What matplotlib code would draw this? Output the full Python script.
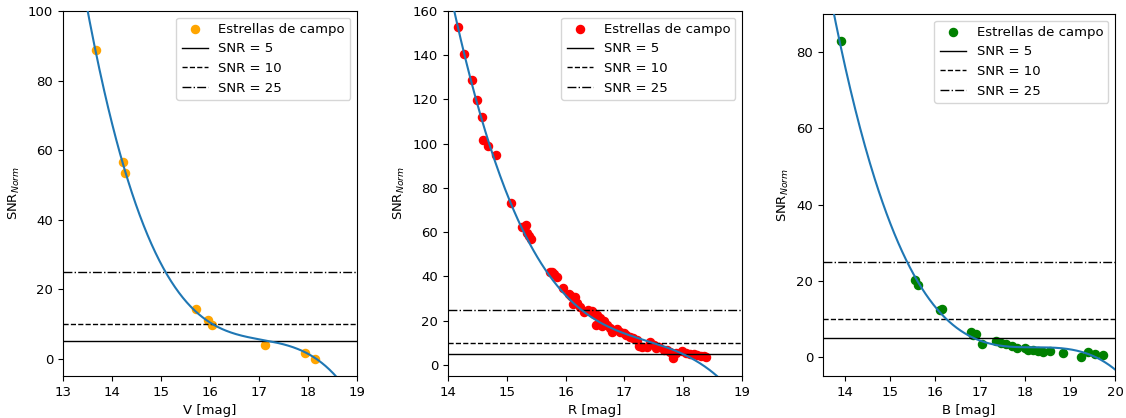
import numpy as np
import matplotlib
matplotlib.use("Agg")
import matplotlib.pyplot as plt

plt.rcParams["font.size"] = 9.5

# =============================================================================
# Data
# =============================================================================

# Panel V: field stars and points
v_mag = [13.67, 14.22, 14.27, 15.71, 15.96, 16.05, 17.13, 17.94, 18.15]
v_snr = [88.9, 56.6, 53.3, 14.4, 11.1, 9.6, 3.8, 1.6, 0.0]
v_trace_mag = [13.50, 13.67, 13.78, 13.92, 14.09, 14.22, 14.37, 14.50, 14.67,
               14.88, 15.09, 15.35, 15.66, 16.07, 16.48, 17.09, 17.71, 18.11, 18.56]
v_trace_snr = [100.0, 89.1, 81.4, 71.8, 62.1, 56.8, 48.6, 42.9, 37.1,
               30.8, 25.0, 20.2, 15.4, 9.6, 6.7, 5.0, 3.2, 0.5, -4.8]

# Panel R
r_mag = [14.17, 14.28, 14.40, 14.50, 14.57, 14.60, 14.68, 14.82, 15.07, 15.25,
         15.33, 15.35, 15.38, 15.41, 15.73, 15.77, 15.80, 15.86, 15.96, 16.05,
         16.10, 16.16, 16.13, 16.20, 16.25, 16.31, 16.38, 16.45, 16.48, 16.53,
         16.59, 16.51, 16.56, 16.62, 16.65, 16.70, 16.75, 16.79, 16.87, 16.92,
         16.99, 17.02, 17.10, 17.15, 17.21, 17.25, 17.30, 17.38, 17.44, 17.50,
         17.53, 17.58, 17.67, 17.72, 17.78, 17.83, 17.88, 17.98, 18.05, 18.12,
         18.18, 18.23, 18.30, 18.35, 18.38]
r_snr = [152.8, 140.5, 129.0, 119.7, 111.9, 101.9, 98.9, 94.9, 73.3, 62.2,
         63.2, 59.8, 58.5, 56.8, 42.1, 41.8, 41.1, 39.9, 34.9, 32.1,
         31.0, 30.6, 27.4, 28.0, 26.1, 24.1, 24.8, 24.5, 23.0, 22.6,
         21.1, 18.1, 19.5, 17.6, 20.0, 18.1, 16.8, 15.1, 16.1, 14.8,
         14.3, 13.5, 12.5, 12.0, 11.3, 8.5, 8.3, 8.3, 10.5, 9.2,
         7.5, 8.3, 6.8, 6.8, 6.0, 3.0, 5.5, 6.5, 5.2, 5.0,
         5.0, 4.5, 4.2, 4.1, 3.8]
r_trace_mag = [14.10, 14.38, 14.78, 14.95, 15.07, 15.23, 15.37, 15.51, 15.68,
               15.85, 16.02, 16.28, 16.65, 16.90, 17.47, 18.01, 18.35, 18.55]
r_trace_snr = [160.3, 128.7, 96.0, 82.1, 73.0, 62.5, 55.7, 48.9, 41.4,
               35.4, 30.1, 24.8, 18.8, 15.8, 10.0, 5.0, 0.0, -5.0]

# Panel B
b_mag = [13.89, 15.54, 15.61, 16.11, 16.14, 16.80, 16.85, 16.90, 17.03, 17.35,
         17.47, 17.58, 17.70, 17.81, 17.99, 18.07, 18.18, 18.29, 18.40, 18.55,
         18.85, 19.24, 19.41, 19.56, 19.74]
b_snr = [83.0, 20.1, 19.0, 12.2, 12.5, 6.5, 5.8, 6.1, 3.5, 4.1,
         3.7, 3.4, 3.0, 2.4, 2.4, 1.9, 1.9, 1.5, 1.2, 1.5,
         1.0, 0.0, 1.2, 0.9, 0.4]
b_trace_mag = [13.75, 13.90, 14.16, 14.54, 14.91, 15.39, 15.65, 16.17,
               16.54, 16.92, 17.44, 18.18, 18.93, 19.37, 19.67, 20.00]
b_trace_snr = [90.0, 82.4, 66.6, 50.0, 36.9, 25.1, 19.8, 11.5,
               7.2, 4.5, 2.8, 2.1, 1.9, 1.2, -0.7, -3.2]

snr_levels = [5, 10, 25]
level_styles = ["-", "--", "-."]
fit_degree = 3

panels = [
    ("V [mag]", v_mag, v_snr, v_trace_mag, v_trace_snr, "orange", (13, 19), (-5, 100),
     [63, 11, 357, 376], [13, 14, 15, 16, 17, 18, 19], [0, 20, 40, 60, 80, 100]),
    ("R [mag]", r_mag, r_snr, r_trace_mag, r_trace_snr, "red", (14, 19), (-5, 160),
     [448, 11, 742, 376], [14, 15, 16, 17, 18, 19], [0, 20, 40, 60, 80, 100, 120, 140, 160]),
    ("B [mag]", b_mag, b_snr, b_trace_mag, b_trace_snr, "green", (13.5, 20), (-5, 90),
     [823, 14, 1115, 376], [14, 15, 16, 17, 18, 19, 20], [0, 20, 40, 60, 80]),
]

W, H = 1126, 418
fig = plt.figure(figsize=(W / 100, H / 100), dpi=100)

for xlabel, mx, my, tx, ty, col, xlim, ylim, box, xt, yt in panels:
    x0, y0, x1, y1 = box
    ax = fig.add_axes([x0 / W, 1 - y1 / H, (x1 - x0) / W, (y1 - y0) / H])
    ax.scatter(mx, my, color=col, s=34, label="Estrellas de campo", zorder=2)

    # smooth cubic through the points
    coef = np.polyfit(tx, ty, fit_degree)
    xx = np.linspace(xlim[0], xlim[1], 300)
    ax.plot(xx, np.polyval(coef, xx), color="#1f77b4", linewidth=1.5, zorder=3)

    for lvl, ls in zip(snr_levels, level_styles):
        ax.axhline(lvl, color="black", linestyle=ls, linewidth=1, label=f"SNR = {lvl}")
    ax.set_xlim(*xlim)
    ax.set_ylim(*ylim)
    ax.set_xticks(xt)
    ax.set_yticks(yt)
    ax.set_xlabel(xlabel)
    ax.set_ylabel(r"SNR$_{Norm}$")
    ax.legend(loc="upper right")

fig.savefig("out.png", dpi=100)
